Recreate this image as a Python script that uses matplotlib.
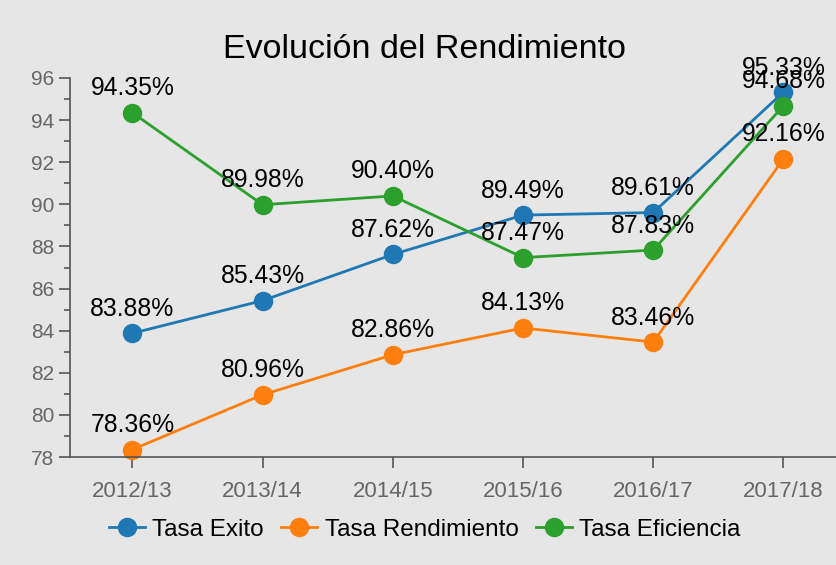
import matplotlib.pyplot as plt
from matplotlib.ticker import MultipleLocator

## Chart data
cursos = ["2012/13", "2013/14", "2014/15", "2015/16", "2016/17", "2017/18"]
tasa_exito = [83.88, 85.43, 87.62, 89.49, 89.61, 95.33]
tasa_rendimiento = [78.36, 80.96, 82.86, 84.13, 83.46, 92.16]
tasa_eficiencia = [94.35, 89.98, 90.40, 87.47, 87.83, 94.68]

series = [
    ("Tasa Exito", tasa_exito, "#1f77b4"),
    ("Tasa Rendimiento", tasa_rendimiento, "#ff7f0e"),
    ("Tasa Eficiencia", tasa_eficiencia, "#2ca02c"),
]

plt.rcParams["font.family"] = ["Liberation Sans", "DejaVu Sans"]
bg = "#e6e6e6"

fig = plt.figure(figsize=(8.36, 5.65), dpi=100, facecolor=bg)
ax = fig.add_axes([0.0837, 0.191, 0.95, 0.671])
ax.set_facecolor(bg)

x = list(range(len(cursos)))
for name, vals, color in series:
    ax.plot(x, vals, color=color, lw=2.0, marker="o", markersize=13, label=name)
    for xi, v in zip(x, vals):
        ax.annotate(f"{v:.2f}%", (xi, v), xytext=(0, 9), textcoords="offset points",
                    ha="center", va="bottom", fontsize=17.8, color="black")

## Axes styling
ax.set_xlim(-0.48, 5.62)
ax.set_ylim(78, 96)
ax.set_xticks(x)
ax.set_xticklabels(cursos)
ax.yaxis.set_major_locator(MultipleLocator(2))
ax.yaxis.set_minor_locator(MultipleLocator(1))
ax.tick_params(axis="both", which="major", length=8, width=1.2, color="#555555",
               labelcolor="#666666", labelsize=15)
ax.tick_params(axis="x", pad=9, labelsize=16)
ax.tick_params(axis="y", which="minor", length=4, width=1.2, color="#555555")
for side in ["top", "right"]:
    ax.spines[side].set_visible(False)
for side in ["left", "bottom"]:
    ax.spines[side].set_color("#555555")
    ax.spines[side].set_linewidth(1.2)

for art in ax.get_children():
    art.set_clip_on(False)

fig.text(0.508, 0.913, "Evolución del Rendimiento", ha="center", va="center", fontsize=24.5)

fig.legend(loc="center", bbox_to_anchor=(0.508, 0.062), ncol=3, frameon=False,
           fontsize=17.5, handlelength=1.5, handletextpad=0.3, columnspacing=0.7)

plt.savefig("out.png", dpi=100, facecolor=bg)
